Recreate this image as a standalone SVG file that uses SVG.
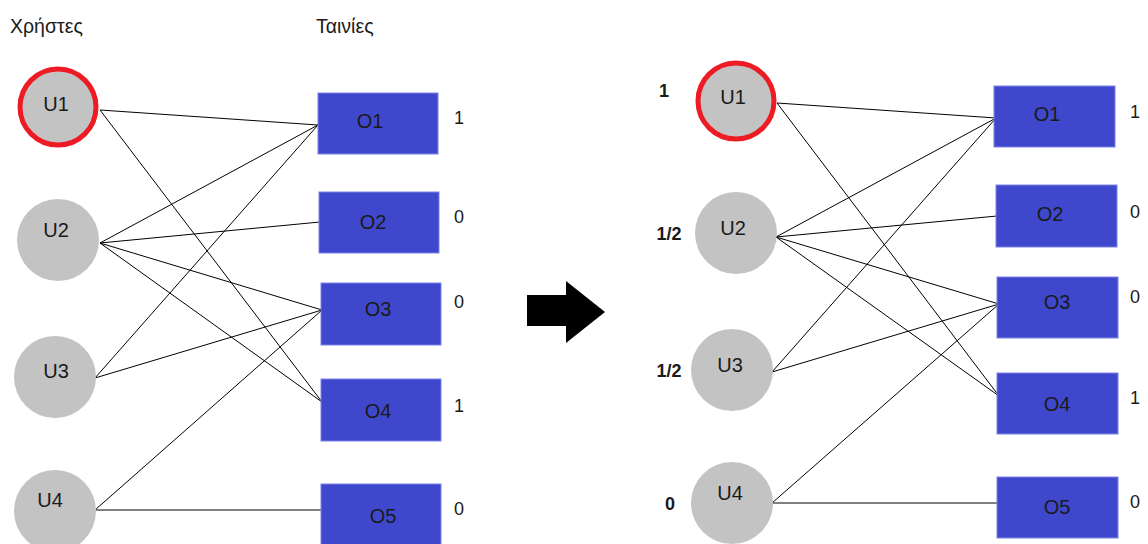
<svg xmlns="http://www.w3.org/2000/svg" width="1148" height="544" viewBox="0 0 1148 544">
<style>
text{font-family:"Liberation Sans",Arial,sans-serif;fill:#1a1a1a}
.lbl{font-size:20px;text-anchor:middle}
.hdr{font-size:19.5px}
.sc{font-size:18px}
.bs{font-size:18px;font-weight:bold;text-anchor:middle}
.u{fill:#c3c3c3}
.sel{fill:#c3c3c3;stroke:#ed1c24;stroke-width:5}
.o{fill:#3f48cc;stroke:#7a82e6;stroke-width:1}
.e line{stroke:#000;stroke-width:1}
</style>
<rect width="1148" height="544" fill="#fff"/>
<text class="hdr" x="10" y="33">Χρήστες</text>
<text class="hdr" x="316" y="33">Ταινίες</text>

<g id="edges-left" class="e">
<line x1="100" y1="110" x2="318" y2="125"/>
<line x1="100" y1="110" x2="322" y2="402"/>
<line x1="100" y1="243" x2="318" y2="125"/>
<line x1="100" y1="243" x2="320" y2="222"/>
<line x1="100" y1="243" x2="322" y2="310"/>
<line x1="100" y1="243" x2="322" y2="402"/>
<line x1="95" y1="378" x2="318" y2="125"/>
<line x1="95" y1="378" x2="322" y2="310"/>
<line x1="95" y1="510" x2="322" y2="310"/>
<line x1="95" y1="510" x2="322" y2="510"/>
</g>

<g id="L-U1"><circle class="sel" cx="58" cy="107" r="38"/><text class="lbl" x="56" y="111">U1</text></g>
<g id="L-U2"><circle class="u" cx="58" cy="240" r="41"/><text class="lbl" x="56" y="237">U2</text></g>
<g id="L-U3"><circle class="u" cx="55" cy="377" r="41"/><text class="lbl" x="56" y="378">U3</text></g>
<g id="L-U4"><circle class="u" cx="55" cy="511" r="41"/><text class="lbl" x="50" y="507">U4</text></g>

<g id="L-O1"><rect class="o" x="318" y="93" width="120" height="61"/><text class="lbl" x="370" y="128">O1</text><text class="sc" x="454" y="124">1</text></g>
<g id="L-O2"><rect class="o" x="319" y="192" width="120" height="61"/><text class="lbl" x="373" y="229">O2</text><text class="sc" x="454" y="223">0</text></g>
<g id="L-O3"><rect class="o" x="321" y="283" width="120" height="62"/><text class="lbl" x="378" y="316">O3</text><text class="sc" x="454" y="308">0</text></g>
<g id="L-O4"><rect class="o" x="321" y="379" width="120" height="62"/><text class="lbl" x="378" y="418">O4</text><text class="sc" x="454" y="412">1</text></g>
<g id="L-O5"><rect class="o" x="321" y="484" width="120" height="64"/><text class="lbl" x="383" y="523">O5</text><text class="sc" x="454" y="515">0</text></g>

<g id="arrow"><polygon points="527,295 566,295 566,281 605,312 566,343 566,326 527,326" fill="#000"/></g>

<g id="edges-right" class="e">
<line x1="777" y1="103" x2="996" y2="118"/>
<line x1="777" y1="103" x2="999" y2="396"/>
<line x1="776" y1="237" x2="996" y2="118"/>
<line x1="776" y1="237" x2="997" y2="216"/>
<line x1="776" y1="237" x2="999" y2="304"/>
<line x1="776" y1="237" x2="999" y2="396"/>
<line x1="772" y1="372" x2="996" y2="118"/>
<line x1="772" y1="372" x2="999" y2="304"/>
<line x1="772" y1="503" x2="999" y2="304"/>
<line x1="772" y1="503" x2="998" y2="503"/>
</g>

<g id="R-U1"><circle class="sel" cx="736" cy="101" r="38"/><text class="lbl" x="733" y="104">U1</text><text class="bs" x="664" y="97">1</text></g>
<g id="R-U2"><circle class="u" cx="736" cy="233" r="41"/><text class="lbl" x="733" y="235">U2</text><text class="bs" x="669" y="240">1/2</text></g>
<g id="R-U3"><circle class="u" cx="732" cy="370" r="41"/><text class="lbl" x="730" y="372">U3</text><text class="bs" x="669" y="377">1/2</text></g>
<g id="R-U4"><circle class="u" cx="732" cy="503" r="41"/><text class="lbl" x="730" y="500">U4</text><text class="bs" x="670" y="510">0</text></g>

<g id="R-O1"><rect class="o" x="994" y="86" width="121" height="61"/><text class="lbl" x="1047" y="121">O1</text><text class="sc" x="1130" y="118">1</text></g>
<g id="R-O2"><rect class="o" x="996" y="185" width="121" height="62"/><text class="lbl" x="1050" y="221">O2</text><text class="sc" x="1130" y="218">0</text></g>
<g id="R-O3"><rect class="o" x="997" y="277" width="121" height="61"/><text class="lbl" x="1057" y="309">O3</text><text class="sc" x="1130" y="303">0</text></g>
<g id="R-O4"><rect class="o" x="997" y="373" width="121" height="61"/><text class="lbl" x="1057" y="411">O4</text><text class="sc" x="1130" y="404">1</text></g>
<g id="R-O5"><rect class="o" x="997" y="477" width="121" height="61"/><text class="lbl" x="1057" y="514">O5</text><text class="sc" x="1130" y="508">0</text></g>
</svg>
